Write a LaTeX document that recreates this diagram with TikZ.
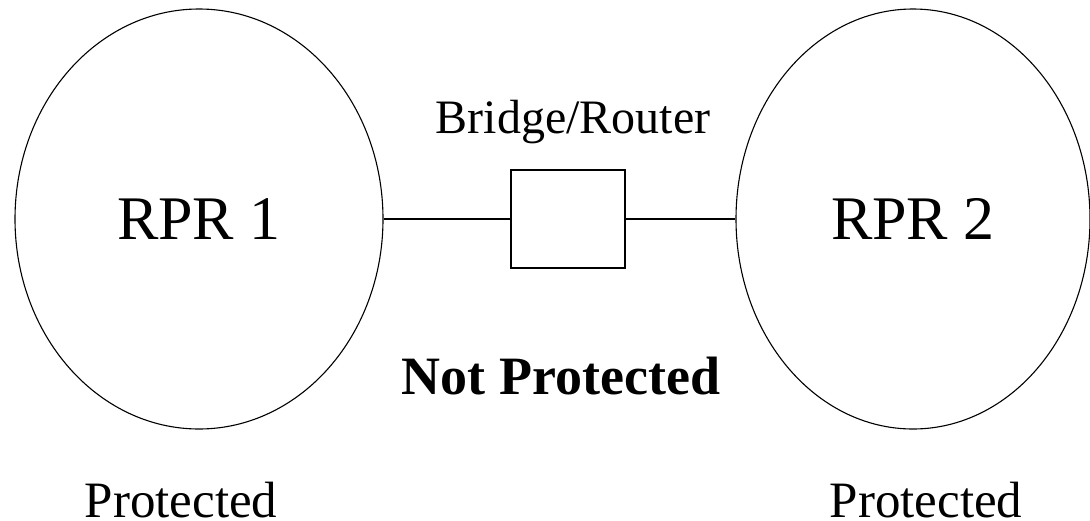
\documentclass[tikz,border=0pt]{standalone}
\usepackage{fontspec}
\setmainfont{Liberation Serif}
\usetikzlibrary{positioning}
\usetikzlibrary{shapes.geometric}

\begin{document}
\begin{tikzpicture}[
    x=1pt, y=-1pt,
    ring/.style={ellipse, draw, line width=1.1pt, inner sep=0pt, minimum height=420pt, font=\fontsize{62}{70}\selectfont},
    device/.style={rectangle, draw, line width=1.5pt, minimum width=114pt, minimum height=98pt, inner sep=0pt},
    link/.style={line width=1.5pt},
    caption/.style={anchor=base, inner sep=0pt, font=\fontsize{51}{58}\selectfont}
]

\useasboundingbox (0,0) rectangle (1090,520);

% Rings
\node[ring, minimum width=368pt] (rpr1) at (199,219) {RPR 1};
\node[ring, minimum width=354pt] (rpr2) at (913,219) {RPR 2};

% Bridge between the rings
\node[device] (bridge) at (568,219) {};
\node[caption, font=\fontsize{48}{56}\selectfont] (bridgelabel) at (573,133) {Bridge/Router};

% Links
\draw[link] (rpr1.east) -- (bridge.west);
\draw[link] (bridge.east) -- (rpr2.west);

% Captions
\node[caption, font=\fontsize{54}{62}\selectfont\bfseries] (unprot) at (561,394) {Not Protected};
\node[caption] (prot1) at (181,517) {Protected};
\node[caption] (prot2) at (926,517) {Protected};

\end{tikzpicture}
\end{document}
